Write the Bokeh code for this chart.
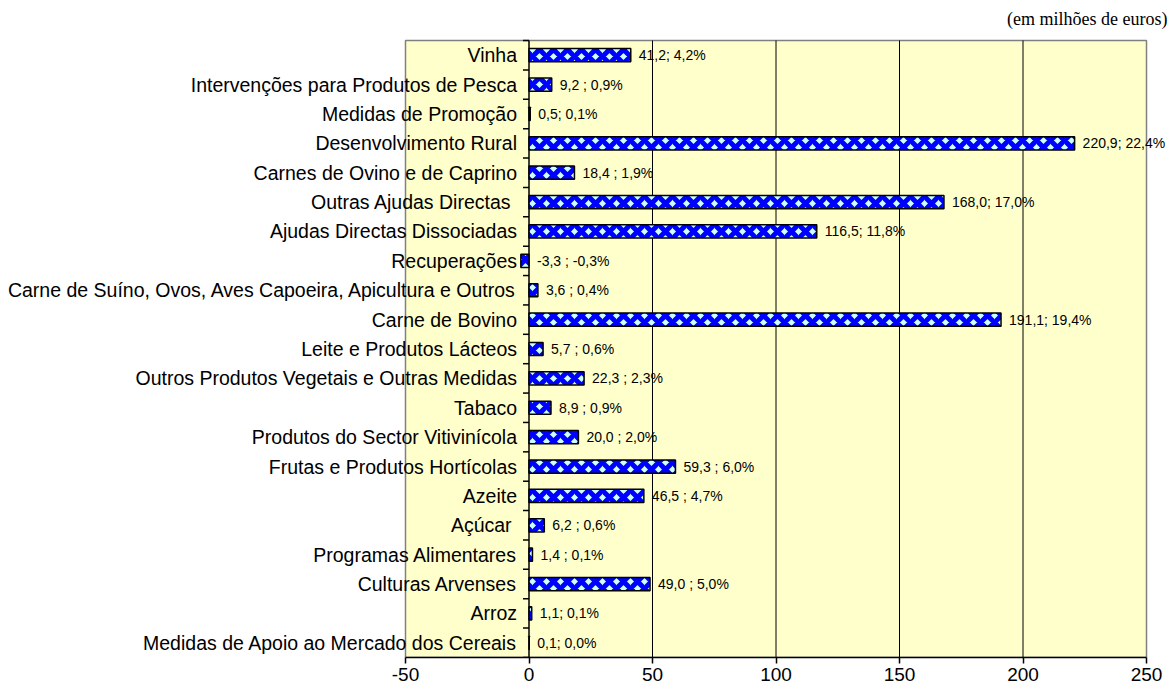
from bokeh.plotting import figure
from bokeh.models import Range1d, FixedTicker, ColumnDataSource
from bokeh.core.properties import value
from bokeh.embed import file_html
from bokeh.resources import INLINE

categories = [
    "Vinha",
    "Intervenções para Produtos de Pesca",
    "Medidas de Promoção",
    "Desenvolvimento Rural",
    "Carnes de Ovino e de Caprino",
    "Outras Ajudas  Directas",
    "Ajudas Directas Dissociadas",
    "Recuperações",
    "Carne de Suíno, Ovos, Aves Capoeira, Apicultura e Outros",
    "Carne de Bovino",
    "Leite e Produtos Lácteos",
    "Outros Produtos Vegetais e Outras Medidas",
    "Tabaco",
    "Produtos do Sector Vitivinícola",
    "Frutas e Produtos Hortícolas",
    "Azeite",
    "Açúcar ",
    "Programas Alimentares",
    "Culturas Arvenses",
    "Arroz",
    "Medidas de Apoio ao Mercado dos Cereais",
]
values = [41.2, 9.2, 0.5, 220.9, 18.4, 168.0, 116.5, -3.3, 3.6, 191.1, 5.7,
          22.3, 8.9, 20.0, 59.3, 46.5, 6.2, 1.4, 49.0, 1.1, 0.1]
value_labels = [
    "41,2; 4,2%", "9,2 ; 0,9%", "0,5; 0,1%", "220,9; 22,4%", "18,4 ; 1,9%",
    "168,0; 17,0%", "116,5; 11,8%", "-3,3 ; -0,3%", "3,6 ; 0,4%", "191,1; 19,4%",
    "5,7 ; 0,6%", "22,3 ; 2,3%", "8,9 ; 0,9%", "20,0 ; 2,0%", "59,3 ; 6,0%",
    "46,5 ; 4,7%", "6,2 ; 0,6%", "1,4 ; 0,1%", "49,0 ; 5,0%", "1,1; 0,1%", "0,1; 0,0%",
]
x_ticks = [-50, 0, 50, 100, 150, 200, 250]
unit_note = "(em milhões de euros)"

# ---- layout (pixels) ----
W, H = 1169, 694
plot_left_px, plot_right_px = 405, 1146
plot_top_px, plot_bottom_px = 40, 657

n = len(categories)
x_lo, x_hi = x_ticks[0], x_ticks[-1]
px_per_unit = (plot_right_px - plot_left_px) / (x_hi - x_lo)
row_px = (plot_bottom_px - plot_top_px) / n
y_lo, y_hi = -0.5, n - 0.5

xr = Range1d(x_lo - plot_left_px / px_per_unit, x_hi + (W - plot_right_px) / px_per_unit)
yr = Range1d(y_lo, y_hi + plot_top_px / row_px)

ypos = [n - 1 - i for i in range(n)]
label_x = [max(v, 0) for v in values]
src = ColumnDataSource(dict(y=ypos, v=values, cat=categories, lab=value_labels,
                            lx=label_x, zero=[0] * n))

p = figure(width=W, height=H, x_range=xr, y_range=yr, output_backend="svg",
           toolbar_location=None, y_axis_location=None,
           min_border_left=0, min_border_right=0, min_border_top=0,
           min_border_bottom=H - plot_bottom_px)
p.background_fill_color = "white"
p.border_fill_color = "white"
p.outline_line_color = None
p.xgrid.visible = False
p.ygrid.visible = False

# plot area
p.quad(left=[x_lo], right=[x_hi], bottom=[y_lo], top=[y_hi],
       fill_color="#FFFFCC", line_color="#808080", line_width=1.5)

# vertical gridlines
grid_x = [t for t in x_ticks if t not in (x_lo, 0, x_hi)]
p.segment(x0=grid_x, x1=grid_x, y0=[y_lo] * len(grid_x), y1=[y_hi] * len(grid_x),
          line_color="black", line_width=1)

# x axis
ax = p.xaxis[0]
ax.bounds = (x_lo, x_hi)
ax.ticker = FixedTicker(ticks=x_ticks)
ax.major_label_overrides = {t: str(t) for t in x_ticks}
ax.major_tick_in = 0
ax.major_tick_out = 6
ax.minor_tick_out = 0
ax.minor_tick_in = 0
ax.axis_line_color = "black"
ax.axis_line_width = 1.5
ax.major_tick_line_color = "black"
ax.major_tick_line_width = 1.5
ax.major_label_standoff = 4
ax.major_label_text_font = "Liberation Sans"
ax.major_label_text_font_size = "19px"
ax.major_label_text_color = "black"

# category axis at x = 0
p.segment(x0=[0], x1=[0], y0=[y_lo], y1=[y_hi], line_color="black", line_width=1.5)
bounds = [k - 0.5 for k in range(n + 1)]
p.segment(x0=[-6 / px_per_unit] * len(bounds), x1=[0] * len(bounds), y0=bounds, y1=bounds,
          line_color="black", line_width=1.5)

p.hbar(y="y", left="zero", right="v", height=0.45, source=src,
       fill_color="#CCFFFF", line_color="black", line_width=1.5,
       hatch_pattern="diagonal_cross", hatch_color="#0000FF", hatch_scale=14, hatch_weight=5)

p.text(x="zero", y="y", text="cat", source=src, x_offset=-12,
       text_align="right", text_baseline="middle",
       text_font=value("Liberation Sans"), text_font_size="19.5px", text_color="black")
p.text(x="lx", y="y", text="lab", source=src, x_offset=8,
       text_align="left", text_baseline="middle",
       text_font=value("Liberation Sans"), text_font_size="14px", text_color="black")
p.text(x=[x_hi], y=[y_hi], text=[unit_note], x_offset=21, y_offset=-22,
       text_align="right", text_baseline="middle",
       text_font=value("Liberation Serif"), text_font_size="18px", text_color="black")

open("out.html", "w").write(file_html(p, INLINE))
